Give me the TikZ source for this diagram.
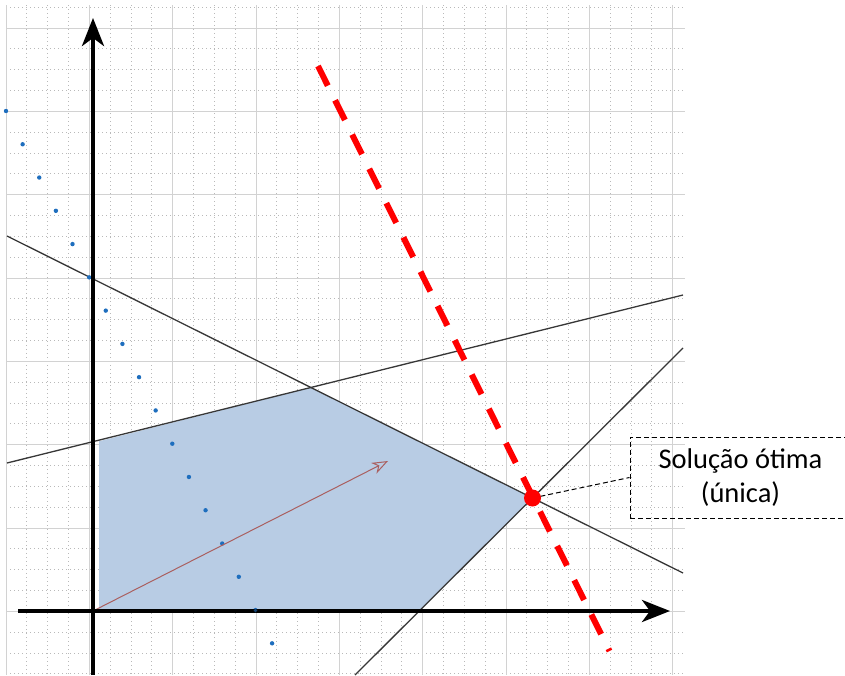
\documentclass[tikz,border=0pt]{standalone}
\usepackage{fontspec}
\setmainfont{Carlito}
\usetikzlibrary{arrows.meta}
\definecolor{gridmaj}{RGB}{210,210,210}
\definecolor{gridmin}{RGB}{185,185,185}
\definecolor{feas}{RGB}{184,204,228}
\definecolor{dotblue}{RGB}{30,110,190}
\definecolor{vecbrown}{RGB}{170,95,95}
\definecolor{constr}{RGB}{55,55,55}
\begin{document}
\begin{tikzpicture}[x=1pt,y=-1pt,
  majorgrid/.style={draw=gridmaj, line width=1pt},
  minorgrid/.style={draw=gridmin, line width=0.8pt, dash pattern=on 0.8pt off 3.2pt},
  constraint/.style={draw=constr, line width=1.3pt},
  axisline/.style={line width=4pt, -{Stealth[length=28pt,width=22pt,inset=8pt]}},
  objline/.style={draw=red, line width=6pt, dash pattern=on 22pt off 16.3pt},
  vector/.style={draw=vecbrown, line width=1pt, -{Stealth[open,length=16pt,width=12pt,inset=5pt]}},
  bluedot/.style={fill=dotblue},
  callout/.style={draw, line width=1pt, dash pattern=on 5pt off 3pt},
  labelbox/.style={callout, minimum width=221pt, minimum height=81pt, align=center,
    font=\fontsize{28.5}{34}\selectfont}]
\useasboundingbox (0,0) rectangle (845,675);
\fill[white] (0,0) rectangle (845,675);
% minor grid
\foreach \i in {0,...,32} {\draw[minorgrid] ({6+20.833*\i},5) -- ({6+20.833*\i},675);}
\foreach \j in {-1,...,31} {\draw[minorgrid] (6,{28+20.833*\j}) -- (685,{28+20.833*\j});}
% major grid
\foreach \i in {0,...,8} {\draw[majorgrid] ({6+83.333*\i},5) -- ({6+83.333*\i},675);}
\foreach \j in {0,...,7} {\draw[majorgrid] (6,{28+83.333*\j}) -- (685,{28+83.333*\j});}
% key points
\coordinate (O) at (93,611);
\coordinate (opt) at (532.5,498);
\coordinate (vAB) at (310.9,387.5);
\coordinate (vB) at (99,441.3);
\coordinate (vC) at (419.2,611);
\coordinate (vO) at (99,611);
% feasible region
\fill[feas] (vB) -- (vAB) -- (opt) -- (vC) -- (vO) -- cycle;
% constraint lines
\coordinate (a1) at (7,236); \coordinate (a2) at (683,573);
\coordinate (b1) at (7,463); \coordinate (b2) at (683,295);
\coordinate (c1) at (355,675); \coordinate (c2) at (683,348);
\draw[constraint] (a1) -- (a2);
\draw[constraint] (b1) -- (b2);
\draw[constraint] (c1) -- (c2);
% level-set dots
\foreach \k in {0,...,16} {\fill[bluedot] ({6+16.63*\k},{111+33.27*\k}) circle (2.2);}
% gradient vector
\coordinate (vt) at (388,461);
\draw[vector] (O) -- (vt);
% axes
\coordinate (yb) at (93,675); \coordinate (yt) at (93,18);
\coordinate (xl) at (18,611); \coordinate (xr) at (670,611);
\draw[axisline] (yb) -- (yt);
\draw[axisline] (xl) -- (xr);
\fill[dotblue!60!black] (255.5,610.5) circle (1.8);
% objective line
\coordinate (r1) at (318,66); \coordinate (r2) at (609.5,651);
\draw[objline] (r1) -- (r2);
% callout
\node[labelbox] (box) at (740.5,477.5) {Solução ótima\\(única)};
\draw[callout] (opt) -- (box.west);
\fill[red] (opt) circle (8.5);
\end{tikzpicture}
\end{document}
